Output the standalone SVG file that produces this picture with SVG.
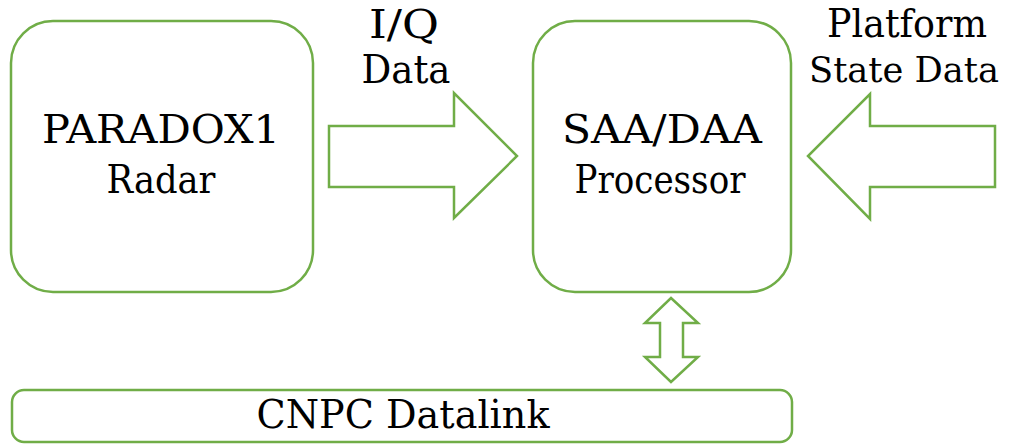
<svg xmlns="http://www.w3.org/2000/svg" width="1014" height="444" viewBox="0 0 1014 444">
<style>
.box{fill:#fff;stroke:#70ad47;stroke-width:2.5}
.arr{fill:#fff;stroke:#70ad47;stroke-width:2.5;stroke-linejoin:miter}
.t{font-family:'DejaVu Serif',serif;font-size:39px;fill:#000;text-anchor:middle}
</style>
<rect width="1014" height="444" fill="#fff"/>
<g id="radar">
<rect class="box" x="11" y="21" width="302" height="271" rx="42" ry="42"/>
<text class="t" x="161" y="143" textLength="238" lengthAdjust="spacingAndGlyphs">PARADOX1</text>
<text class="t" x="161" y="193" textLength="109" lengthAdjust="spacingAndGlyphs">Radar</text>
</g>
<g id="processor">
<rect class="box" x="533" y="21" width="258" height="271" rx="42" ry="42"/>
<text class="t" x="662" y="143" textLength="200" lengthAdjust="spacingAndGlyphs">SAA/DAA</text>
<text class="t" x="660" y="193" textLength="171" lengthAdjust="spacingAndGlyphs">Processor</text>
</g>
<g id="datalink">
<rect class="box" x="12" y="390" width="780" height="52" rx="12" ry="12"/>
<text class="t" x="403" y="428" textLength="293" lengthAdjust="spacingAndGlyphs">CNPC Datalink</text>
</g>
<g id="connectors">
<polygon class="arr" points="329,126 454,126 454,93 517,156 454,218 454,187 329,187"/>
<polygon class="arr" points="995,126 870,126 870,94 808,156 870,219 870,187 995,187"/>
<polygon class="arr" points="671,298 698,323 683,323 683,357 698,357 671,382 645,357 660,357 660,323 645,323"/>
</g>
<g id="labels">
<text class="t" x="404" y="38" textLength="70" lengthAdjust="spacingAndGlyphs">I/Q</text>
<text class="t" x="406" y="83" textLength="89" lengthAdjust="spacingAndGlyphs">Data</text>
<text class="t" x="907" y="37" textLength="160" lengthAdjust="spacingAndGlyphs">Platform</text>
<text class="t" x="904" y="82" font-size="36" style="font-size:36px" textLength="190" lengthAdjust="spacingAndGlyphs">State Data</text>
</g>
</svg>
